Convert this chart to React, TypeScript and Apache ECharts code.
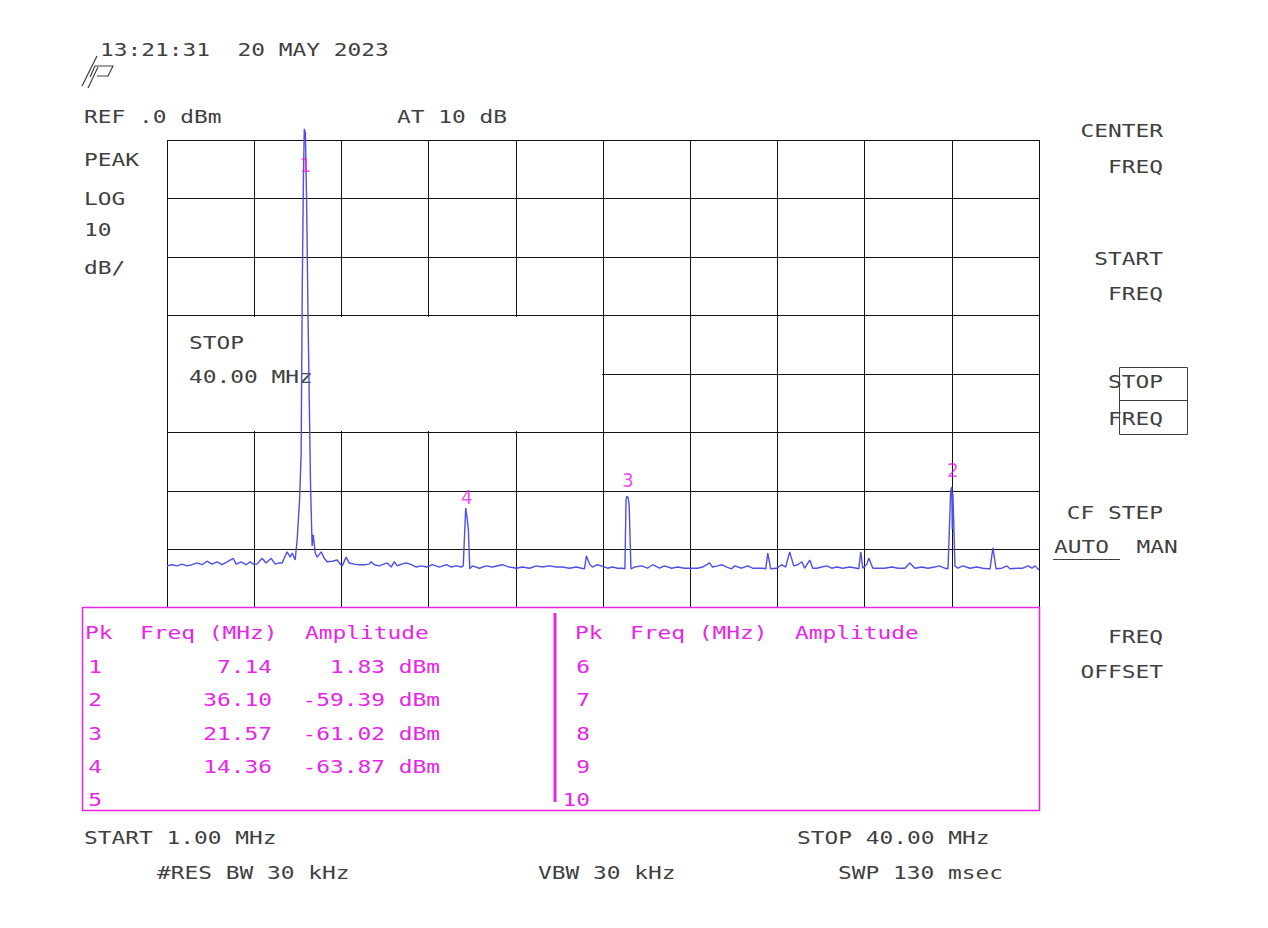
import { useEffect, useRef } from "react";
import * as echarts from "echarts";

// Trace (frequency in MHz, amplitude in dBm)
const traceFreq = [
  1.0, 1.22, 1.45, 1.67, 1.9, 2.12, 2.34, 2.57, 2.79, 3.01, 3.24, 3.46, 3.69, 3.96, 4.09, 4.31, 4.54, 4.72, 4.85, 5.03,
  5.25, 5.43, 5.66, 5.84, 6.01, 6.15, 6.37, 6.51, 6.6, 6.73, 6.82, 6.93, 7.0, 7.05, 7.1, 7.14, 7.19, 7.25, 7.31, 7.42,
  7.49, 7.54, 7.63, 7.72, 7.9, 8.03, 8.16, 8.39, 8.61, 8.75, 8.84, 9.01, 9.15, 9.37, 9.6, 9.82, 10.04, 10.13, 10.27, 10.49,
  10.63, 10.85, 11.03, 11.16, 11.3, 11.48, 11.7, 11.93, 12.15, 12.37, 12.6, 12.87, 13.18, 13.49, 13.72, 13.94, 14.16, 14.25, 14.36, 14.42,
  14.48, 14.54, 14.66, 14.97, 15.28, 15.55, 16.0, 16.31, 16.63, 16.9, 17.21, 17.52, 17.79, 18.1, 18.42, 18.69, 19.0, 19.31, 19.54, 19.67,
  19.76, 19.9, 20.03, 20.25, 20.43, 20.7, 20.93, 21.15, 21.37, 21.48, 21.53, 21.57, 21.63, 21.67, 21.75, 21.91, 22.22, 22.49, 22.72, 23.03,
  23.25, 23.57, 23.84, 24.15, 24.46, 24.73, 24.95, 25.27, 25.4, 25.63, 25.81, 26.03, 26.25, 26.39, 26.7, 26.97, 27.19, 27.51, 27.64, 27.78,
  27.87, 28.0, 28.27, 28.49, 28.67, 28.85, 29.03, 29.21, 29.39, 29.52, 29.75, 29.88, 30.06, 30.28, 30.51, 30.73, 30.96, 31.22, 31.54, 31.85,
  31.94, 32.03, 32.12, 32.3, 32.39, 32.57, 32.79, 33.1, 33.42, 33.69, 34.0, 34.22, 34.45, 34.76, 35.03, 35.34, 35.52, 35.79, 35.93, 36.05,
  36.1, 36.12, 36.15, 36.24, 36.37, 36.6, 36.91, 37.22, 37.49, 37.72, 37.81, 37.94, 38.08, 38.34, 38.57, 38.7, 39.02, 39.28, 39.51, 39.69,
  39.82, 40.0,
];
const traceAmp = [
  -72.8, -72.6, -72.8, -72.5, -72.8, -72.6, -72.3, -72.6, -72.0, -72.5, -72.1, -72.6, -72.1, -71.5, -72.5, -72.1, -72.6, -72.1, -72.5, -72.5,
  -71.5, -72.3, -71.5, -72.5, -72.3, -72.3, -70.4, -71.3, -70.6, -71.8, -68.4, -61.5, -53.5, -25.1, -7.0, 1.9, 1.2, -12.0, -30.8, -59.0,
  -69.4, -67.5, -70.6, -71.3, -70.4, -71.5, -72.1, -72.0, -71.8, -72.5, -72.8, -71.3, -72.3, -72.5, -72.6, -72.6, -72.5, -72.1, -72.6, -72.8,
  -72.6, -72.3, -73.0, -72.1, -72.8, -72.5, -72.3, -72.6, -73.0, -72.8, -73.0, -72.6, -73.0, -72.6, -73.0, -72.8, -73.0, -72.8, -62.9, -64.5,
  -66.7, -73.3, -72.8, -73.2, -72.8, -73.0, -72.6, -73.0, -73.2, -73.0, -73.2, -72.8, -73.0, -72.8, -73.0, -73.0, -73.2, -73.0, -73.2, -73.3,
  -71.1, -72.5, -73.0, -72.6, -72.8, -73.2, -73.0, -73.2, -73.2, -73.3, -61.5, -60.9, -61.2, -62.5, -73.3, -73.0, -72.8, -73.2, -72.6, -73.2,
  -72.8, -73.2, -73.0, -73.2, -73.2, -73.2, -73.0, -72.3, -73.0, -72.8, -72.6, -73.0, -73.3, -72.8, -73.2, -72.8, -73.2, -73.2, -73.2, -73.3,
  -70.6, -73.3, -73.2, -72.6, -73.0, -70.4, -72.8, -72.6, -72.1, -73.2, -71.8, -73.2, -73.2, -73.0, -72.8, -73.2, -73.0, -73.2, -73.0, -73.2,
  -73.3, -70.4, -73.2, -72.5, -71.5, -73.2, -73.2, -73.2, -73.0, -73.2, -73.2, -72.3, -73.2, -73.0, -73.2, -73.0, -72.8, -73.2, -73.3, -60.0,
  -59.3, -66.5, -60.5, -72.8, -73.2, -72.8, -73.2, -73.0, -73.2, -73.3, -73.3, -69.7, -73.3, -73.2, -72.8, -73.3, -73.2, -73.2, -72.8, -73.2,
  -72.8, -73.5,
];

// Peak table
const peakNums = ["1", "2", "3", "4"];
const peakFreqs = [7.14, 36.1, 21.57, 14.36];
const peakAmps = [1.83, -59.39, -61.02, -63.87];
const emptyLeftRows = ["5"];
const emptyRightRows = ["6", "7", "8", "9", "10"];

// Axes
const freqStart = 1.0;
const freqStop = 40.0;
const refLevel = 0;
const bottomLevel = -80;
const dbPerDiv = 10;
const xDivs = 10;

const FONT = "'DejaVu Sans Mono', monospace";
const MAG = "#e824e8";
const INK = "#404040";
const TRACE = "#4f4fe6";
const SX = 1.27;

const GL = 167;
const GT = 140;
const GW = 872;
const GH = 468;

function txt(text: string, x: number, y: number, opts: any = {}) {
  return {
    type: "text",
    x,
    y,
    scaleX: opts.scaleX ?? SX,
    z: opts.z ?? 5,
    style: {
      text,
      fill: opts.fill ?? INK,
      fontSize: opts.fontSize ?? 18,
      fontFamily: FONT,
      align: opts.align ?? "left",
      verticalAlign: "middle",
    },
  };
}

function line(x1: number, y1: number, x2: number, y2: number, stroke: string, w = 1, z = 5) {
  return { type: "line", z, shape: { x1, y1, x2, y2 }, style: { stroke, lineWidth: w } };
}

function poly(points: number[][], stroke: string, w = 1.2) {
  return { type: "polyline", z: 5, shape: { points }, style: { stroke, lineWidth: w, fill: null } };
}

export default function App() {
  const ref = useRef<HTMLDivElement>(null);
  useEffect(() => {
    if (!ref.current) return;
    const chart = echarts.init(ref.current, undefined, { renderer: "svg" });
    const divW = GW / xDivs;
    const divH = GH / ((refLevel - bottomLevel) / dbPerDiv);

    const rowYs = [667, 700, 734, 767, 800];
    const elements: any[] = [
      // active function block erasing graticule
      {
        type: "rect",
        z: 1,
        shape: { x: GL + 1, y: GT + 3 * divH + 1.5, width: 5 * divW - 2, height: 2 * divH - 3 },
        style: { fill: "#ffffff" },
      },
      txt("STOP", 189, 343, { z: 1 }),
      txt("40.00 MHz", 189, 377, { z: 1 }),
      // header
      txt("13:21:31  20 MAY 2023", 100, 50),
      poly([[82, 86], [97, 56]], INK),
      poly([[90, 77], [95, 66], [113, 66], [108, 76], [97, 76]], INK),
      poly([[88, 88], [98, 67]], INK),
      txt("REF .0 dBm", 84, 117),
      txt("AT 10 dB", 397, 117),
      txt("PEAK", 84, 160),
      txt("LOG", 84, 199),
      txt("10", 84, 230),
      txt("dB/", 84, 268),
      // softkeys
      txt("CENTER", 1163, 131, { align: "right" }),
      txt("FREQ", 1163, 167, { align: "right" }),
      txt("START", 1163, 259, { align: "right" }),
      txt("FREQ", 1163, 294, { align: "right" }),
      txt("STOP", 1163, 382, { align: "right" }),
      txt("FREQ", 1163, 419, { align: "right" }),
      { type: "rect", z: 5, shape: { x: 1119.5, y: 367.5, width: 68, height: 67 }, style: { fill: null, stroke: INK, lineWidth: 1 } },
      line(1119.5, 400.5, 1187.5, 400.5, INK),
      txt("CF STEP", 1163, 513, { align: "right" }),
      txt("AUTO  MAN", 1054, 547),
      line(1053, 559.5, 1120, 559.5, INK),
      txt("FREQ", 1163, 637, { align: "right" }),
      txt("OFFSET", 1163, 672, { align: "right" }),
      // peak table
      {
        type: "rect",
        z: 4,
        shape: { x: 82.5, y: GT + GH - 0.5, width: 957, height: 203 },
        style: { fill: "#ffffff", stroke: MAG, lineWidth: 1.5 },
      },
      line(555, 613, 555, 802, MAG, 3),
      txt("Pk  Freq (MHz)  Amplitude", 85, 633, { fill: MAG }),
      txt("Pk  Freq (MHz)  Amplitude", 575, 633, { fill: MAG }),
      // footer
      txt("START 1.00 MHz", 84, 838),
      txt("STOP 40.00 MHz", 797, 838),
      txt("#RES BW 30 kHz", 157, 873),
      txt("VBW 30 kHz", 538, 873),
      txt("SWP 130 msec", 838, 873),
    ];
    peakNums.forEach((n, i) => {
      elements.push(txt(n, 102, rowYs[i], { fill: MAG, align: "right" }));
      elements.push(txt(peakFreqs[i].toFixed(2), 272, rowYs[i], { fill: MAG, align: "right" }));
      elements.push(txt(peakAmps[i].toFixed(2) + " dBm", 440, rowYs[i], { fill: MAG, align: "right" }));
    });
    emptyLeftRows.forEach((n, i) => {
      elements.push(txt(n, 102, rowYs[peakNums.length + i], { fill: MAG, align: "right" }));
    });
    emptyRightRows.forEach((n, i) => {
      elements.push(txt(n, 590, rowYs[i], { fill: MAG, align: "right" }));
    });

    const gridLine = { show: true, lineStyle: { color: "#141414", width: 1 } };

    chart.setOption({
      animation: false,
      backgroundColor: "#ffffff",
      grid: { left: GL, top: GT, width: GW, height: GH, containLabel: false },
      xAxis: [
        { type: "value", min: freqStart, max: freqStop, show: false },
        {
          type: "value",
          min: 0,
          max: xDivs,
          interval: 1,
          position: "bottom",
          axisLine: { show: false },
          axisTick: { show: false },
          axisLabel: { show: false },
          splitLine: gridLine,
        },
      ],
      yAxis: {
        type: "value",
        min: bottomLevel,
        max: refLevel,
        interval: dbPerDiv,
        axisLine: { show: false },
        axisTick: { show: false },
        axisLabel: { show: false },
        splitLine: gridLine,
      },
      series: [
        {
          type: "line",
          xAxisIndex: 0,
          data: traceFreq.map((f, i) => [f, traceAmp[i]]),
          showSymbol: false,
          symbol: "none",
          clip: false,
          z: 3,
          lineStyle: { color: TRACE, width: 1.4 },
        },
        {
          type: "scatter",
          xAxisIndex: 0,
          symbolSize: 1,
          clip: false,
          z: 4,
          itemStyle: { color: "rgba(0,0,0,0)" },
          label: {
            show: true,
            position: "inside",
            formatter: "{b}",
            color: MAG,
            fontSize: 19,
            fontFamily: FONT,
          },
          data: peakNums.map((n, i) => ({
            name: n,
            value: [peakFreqs[i], peakAmps[i]],
            label: { offset: n === "1" ? [1, 36] : [1, -17] },
          })),
        },
      ],
      graphic: { elements },
    });
    return () => chart.dispose();
  }, []);
  return (
    <div
      ref={ref}
      style={{ position: "absolute", left: 0, top: 0, width: 1268, height: 928, background: "#fff" }}
    />
  );
}
